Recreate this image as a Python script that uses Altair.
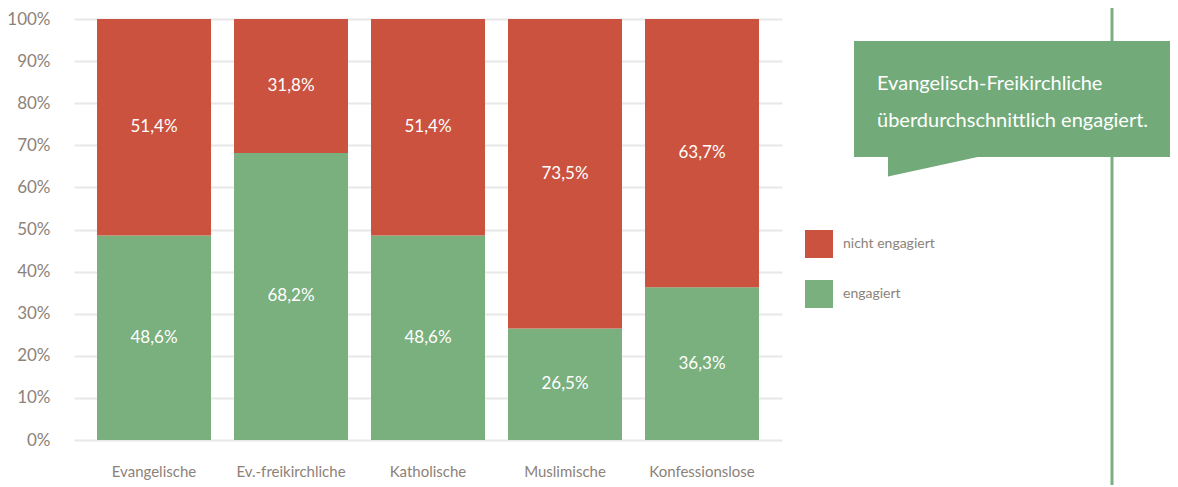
import altair as alt
import pandas as pd

categories = ["Evangelische", "Ev.-freikirchliche", "Katholische", "Muslimische", "Konfessionslose"]
engagiert = [48.6, 68.2, 48.6, 26.5, 36.3]
nicht_engagiert = [51.4, 31.8, 51.4, 73.5, 63.7]
series = ["nicht engagiert", "engagiert"]
colors = ["#cb523e", "#7aaf7e"]
callout_lines = ["Evangelisch-Freikirchliche", "überdurchschnittlich engagiert."]

FONT = "Lato"
GREY = "#8c8279"

rows = []
for c, e, n in zip(categories, engagiert, nicht_engagiert):
    rows.append({"category": c, "series": "engagiert", "value": e, "order": 0})
    rows.append({"category": c, "series": "nicht engagiert", "value": n, "order": 1})
df = pd.DataFrame(rows)
df["label"] = df["value"].map(lambda v: f"{v:.1f}".replace(".", ",") + "%")

xscale = alt.Scale(paddingInner=0.168, paddingOuter=0.168)
yscale = alt.Scale(domain=[0, 100])
xaxis = alt.Axis(title=None, labelAngle=0, domain=False, ticks=False,
                 labelPadding=24, labelFontSize=15, labelColor=GREY, labelFont=FONT)
yaxis = alt.Axis(title=None, values=list(range(0, 101, 10)), labelExpr="datum.value + '%'",
                 domain=False, ticks=False, labelPadding=24, labelFontSize=17,
                 labelColor=GREY, labelFont=FONT, gridColor="#e8e8e8", gridWidth=2)

base = alt.Chart(df)

bars = base.mark_bar().encode(
    x=alt.X("category:N", sort=categories, scale=xscale, axis=xaxis),
    y=alt.Y("value:Q", stack="zero", scale=yscale, axis=yaxis),
    color=alt.Color("series:N", scale=alt.Scale(domain=series, range=colors),
                    legend=alt.Legend(title=None, orient="none", legendX=731, legendY=211,
                                      symbolType="square", symbolSize=784, symbolStrokeWidth=0,
                                      symbolOpacity=1, rowPadding=22, labelOffset=10,
                                      labelFontSize=14, labelColor=GREY, labelFont=FONT)),
    order=alt.Order("order:Q"),
)

texts = base.transform_stack(
    stack="value", groupby=["category"], as_=["v0", "v1"], sort=[{"field": "order"}]
).transform_calculate(mid="(datum.v0 + datum.v1) / 2").mark_text(
    color="white", fontSize=17, font=FONT, baseline="middle"
).encode(
    x=alt.X("category:N", sort=categories, scale=xscale, axis=xaxis),
    y=alt.Y("mid:Q", scale=yscale, axis=yaxis),
    text="label:N",
)

dummy = alt.Chart(pd.DataFrame({"a": [0]}))

vline = dummy.mark_rule(color="#7aaf7e", strokeWidth=3).encode(
    x=alt.value(1038), y=alt.value(-11), y2=alt.value(470)
)
box = dummy.mark_rect(color="#72ab79").encode(
    x=alt.value(780), x2=alt.value(1100), y=alt.value(22), y2=alt.value(138)
)
tail = dummy.mark_point(shape="M0,0 L0,1 L4.6,0 Z", filled=True, opacity=1, size=1600,
                        color="#72ab79", strokeWidth=0).encode(
    x=alt.value(814), y=alt.value(137.5)
)
line1 = alt.Chart(pd.DataFrame({"t": [callout_lines[0]]})).mark_text(
    color="white", fontSize=20, font=FONT, align="left", baseline="alphabetic"
).encode(x=alt.value(803), y=alt.value(71), text="t:N")
line2 = alt.Chart(pd.DataFrame({"t": [callout_lines[1]]})).mark_text(
    color="white", fontSize=20, font=FONT, align="left", baseline="alphabetic"
).encode(x=alt.value(803), y=alt.value(108), text="t:N")

chart = alt.layer(vline, bars, texts, box, tail, line1, line2).properties(
    width=708, height=421,
    autosize=alt.AutoSizeParams(type="none"),
    padding={"left": 66, "top": 11, "right": 388, "bottom": 45},
).configure_view(stroke=None)

chart.save("out.html", embed_options={"renderer": "svg", "actions": False})
